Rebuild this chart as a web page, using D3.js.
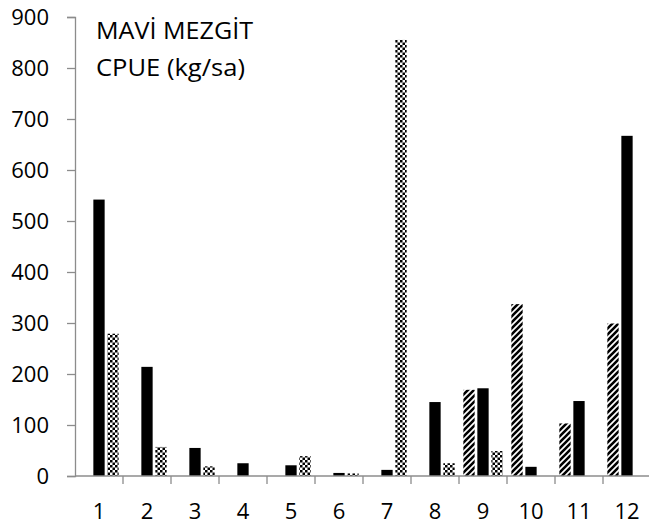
<!DOCTYPE html>
<html><head><meta charset="utf-8">
<script src="https://cdn.jsdelivr.net/npm/d3@7"></script>
<style>body{margin:0;background:#fff}svg{display:block}</style>
</head><body>
<script>
const categories = ["1","2","3","4","5","6","7","8","9","10","11","12"];
const seriesNames = ["hatched","solid","checkered"];
const hatchedValues = [null,null,null,null,null,null,null,null,169,337,103,299];
const solidValues = [542,214,55,25,21,6,12,145,172,18,147,667];
const checkeredValues = [279,57,19,null,39,5,855,25,49,null,null,null];
const yTicks = [0,100,200,300,400,500,600,700,800,900];
const titleLines = ["MAVİ MEZGİT","CPUE (kg/sa)"];

const W = 649, H = 530;
const svg = d3.select("body").append("svg").attr("width", W).attr("height", H);
const defs = svg.append("defs");
const hp = defs.append("pattern").attr("id","hatch").attr("patternUnits","userSpaceOnUse")
  .attr("width",6).attr("height",6);
hp.append("rect").attr("width",6).attr("height",6).attr("fill","#fff");
hp.append("path").attr("d","M-1,1 l2,-2 M0,6 l6,-6 M5,7 l2,-2").attr("stroke","#000").attr("stroke-width",2.6);
const cp = defs.append("pattern").attr("id","check").attr("patternUnits","userSpaceOnUse")
  .attr("width",5).attr("height",5);
cp.append("rect").attr("width",5).attr("height",5).attr("fill","#fff");
cp.append("rect").attr("width",2.5).attr("height",2.5).attr("fill","#000");
cp.append("rect").attr("x",2.5).attr("y",2.5).attr("width",2.5).attr("height",2.5).attr("fill","#000");

const fills = {hatched:"url(#hatch)", solid:"#000", checkered:"url(#check)"};
const valuesBy = {hatched:hatchedValues, solid:solidValues, checkered:checkeredValues};

const x0 = d3.scaleBand().domain(categories).range([75, 651]).paddingInner(0).paddingOuter(0);
const x1 = d3.scaleBand().domain(seriesNames).range([0, x0.bandwidth()]).paddingInner(0.193).paddingOuter(0.311);
const y = d3.scaleLinear().domain([0, 900]).range([476, 17]);

const font = "'Open Sans', sans-serif";

// bars
seriesNames.forEach(s => {
  svg.append("g").selectAll("rect").data(categories.map((c,i)=>({c, v: valuesBy[s][i]})).filter(d=>d.v!=null))
    .join("rect")
    .attr("x", d => x0(d.c) + x1(s))
    .attr("width", x1.bandwidth())
    .attr("y", d => y(d.v))
    .attr("height", d => y(0) - y(d.v))
    .attr("fill", fills[s]);
});

// y axis
const ya = svg.append("g").attr("transform","translate(75,0)")
  .call(d3.axisLeft(y).tickValues(yTicks).tickSize(8).tickPadding(18).tickFormat(d3.format("d")));
ya.select(".domain").attr("stroke","#8c8c8c").attr("stroke-width",1.3);
ya.selectAll(".tick line").attr("stroke","#8c8c8c").attr("stroke-width",1.3);
ya.selectAll("text").attr("font-family",font).attr("font-size",22).attr("fill","#000");

// x axis
const xa = svg.append("g").attr("transform","translate(0,476)");
xa.append("line").attr("x1",75).attr("x2",651).attr("stroke","#8c8c8c").attr("stroke-width",1.3);
xa.selectAll("line.tk").data(categories.slice(1).concat(["end"])).join("line").attr("class","tk")
  .attr("x1", d => d==="end" ? 651 : x0(d)).attr("x2", d => d==="end" ? 651 : x0(d))
  .attr("y1",0).attr("y2",8).attr("stroke","#8c8c8c").attr("stroke-width",1.3);
xa.selectAll("text").data(categories).join("text")
  .attr("x", d => x0(d) + x0.bandwidth()/2).attr("y", 43)
  .attr("text-anchor","middle").attr("font-family",font).attr("font-size",22).attr("fill","#000")
  .text(d => d);

// title
const titleWidths = [157, 149];
svg.append("g").selectAll("text").data(titleLines).join("text")
  .attr("x",96).attr("y",(d,i)=>39 + i*37)
  .attr("font-family",font).attr("font-size",24).attr("fill","#000")
  .attr("textLength",(d,i)=>titleWidths[i]).attr("lengthAdjust","spacingAndGlyphs")
  .text(d=>d);
</script>
</body></html>
